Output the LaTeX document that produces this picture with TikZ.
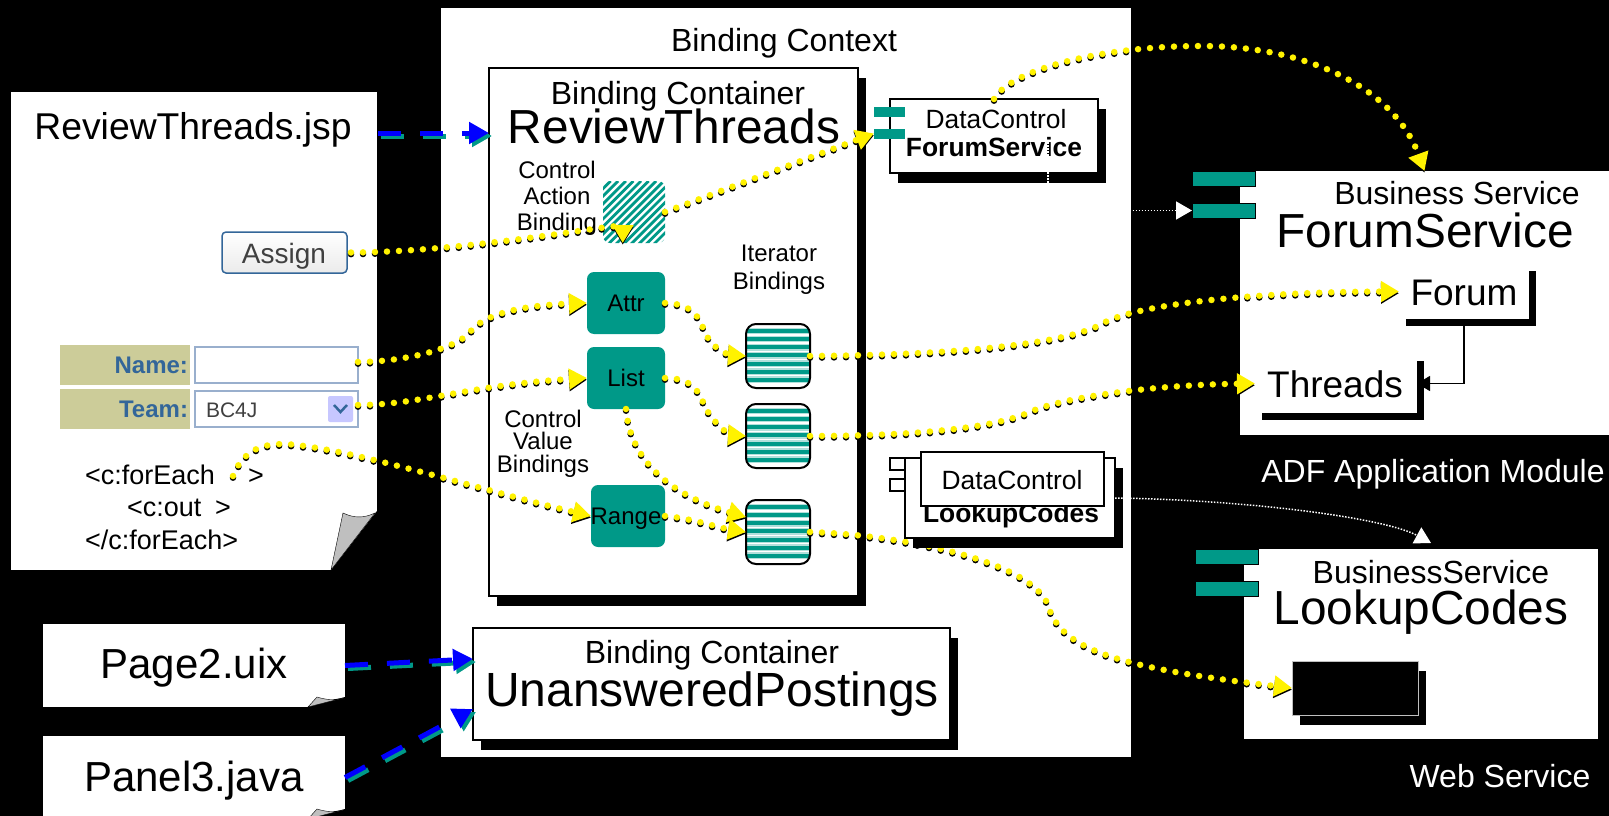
\documentclass[tikz,border=0pt]{standalone}
\usepackage{fontspec}
\setmainfont{Liberation Sans}
\usetikzlibrary{arrows.meta,shadows}

\definecolor{bindteal}{RGB}{0,153,136}
\definecolor{formolive}{RGB}{204,204,153}
\definecolor{formblue}{RGB}{51,102,153}
\definecolor{formedge}{RGB}{153,175,205}

\tikzset{
  txt/.style={anchor=base,inner sep=0pt,outer sep=0pt,font=\fontsize{#1}{#1}\selectfont},
  txtb/.style={anchor=base,inner sep=0pt,outer sep=0pt,font=\fontsize{#1}{#1}\selectfont\bfseries},
  txtw/.style={anchor=base west,inner sep=0pt,outer sep=0pt,font=\fontsize{#1}{#1}\selectfont},
  sheet/.style={fill=white,inner sep=0pt,outer sep=0pt},
  blockbox/.style={draw=black,line width=1.5pt,fill=white,inner sep=0pt,outer sep=0pt,
    general shadow={shadow xshift=8pt,shadow yshift=-10pt,fill=black}},
  plainbox/.style={fill=white,inner sep=0pt,outer sep=0pt,
    general shadow={shadow xshift=7pt,shadow yshift=-7pt,fill=black}},
  lug/.style={fill=bindteal,inner sep=0pt,outer sep=0pt,minimum width=#1},
  bigtile/.style={fill=bindteal,rounded corners=7pt,inner sep=0pt,outer sep=0pt,
    minimum height=62pt,text depth=0pt,font=\fontsize{24}{24}\selectfont},
  hatchtile/.style={fill=white,rounded corners=7pt,inner sep=0pt,outer sep=0pt,
    minimum width=62pt,minimum height=62pt,
    path picture={\foreach \k in {1,...,18}
      \draw[bindteal,line width=2.8pt]
        ([xshift=\k*7.6pt]path picture bounding box.north west) --
        ([xshift=\k*7.6pt-70pt,yshift=-70pt]path picture bounding box.north west);}},
  itertile/.style={draw=black,line width=2pt,fill=white,rounded corners=10pt,inner sep=0pt,outer sep=0pt,
    minimum width=64pt,minimum height=64pt,
    path picture={\foreach \k in {1,...,7} {
      \draw[bindteal!30,line width=6.5pt]
        ([yshift=-\k*8.1pt+1pt]path picture bounding box.north west) --
        ([yshift=-\k*8.1pt+1pt]path picture bounding box.north east);
      \draw[bindteal,line width=4pt]
        ([yshift=-\k*8.1pt+1pt]path picture bounding box.north west) --
        ([yshift=-\k*8.1pt+1pt]path picture bounding box.north east);}}},
  dotfront/.style={draw=yellow,line width=6.5pt,line cap=round,dash pattern=on 0pt off 12pt,
    -{Triangle[length=18pt,width=20pt,fill=yellow]}},
  dotback/.style={dotfront,draw=black,transform canvas={yshift=-1.7pt},
    -{Triangle[length=18pt,width=20pt,fill=black]}},
  bluefront/.style={draw=blue,line width=5pt,dash pattern=on 23pt off 19pt,
    -{Triangle[length=20pt,width=21pt,fill=blue]}},
  blueback/.style={bluefront,draw=bindteal,transform canvas={shift={(3pt,-3pt)}},
    -{Triangle[length=20pt,width=21pt,fill=bindteal]}},
  whitedots/.style={draw=white,line width=1.5pt,dash pattern=on 1.5pt off 1.5pt,
    -{Triangle[length=16pt,width=18pt,fill=white]}},
}
\newcommand{\dotlink}[1]{\draw[dotback] #1; \draw[dotfront] #1;}
\newcommand{\bluelink}[1]{\draw[blueback] #1; \draw[bluefront] #1;}

\begin{document}
\begin{tikzpicture}[x=1pt,y=-1pt]
\useasboundingbox (0,0) rectangle (1609,816);
\fill[black] (0,0) rectangle (1609,816);

% pages on the left
\node[sheet,minimum width=366pt,minimum height=478pt] (jsppage) at (194,331) {};
\fill[black] (331,570) -- (377,511) -- (377,571) -- (331,571) -- cycle;
\filldraw[fill=lightgray,draw=black] (331,570) -- (343,513) to[bend right=25] (375,513) -- cycle;
\node[sheet,minimum width=302pt,minimum height=83pt] (pagetwo) at (194,665.5) {};
\fill[black] (308,707) -- (345,697) -- (345,708) -- (308,708) -- cycle;
\filldraw[fill=lightgray,draw=black] (308,707) -- (317,697) to[bend right=15] (343,698) -- cycle;
\node[sheet,minimum width=302pt,minimum height=83pt] (panelthree) at (194,777.5) {};
\fill[black] (308,819) -- (345,809) -- (345,820) -- (308,820) -- cycle;
\filldraw[fill=lightgray,draw=black] (308,819) -- (317,809) to[bend right=15] (343,810) -- cycle;
\node[txt=37.3] (jsptitle) at (193,139) {ReviewThreads.jsp};
\node[txt=42] (pagetitle) at (194,678) {Page2.uix};
\node[txt=42] (paneltitle) at (194,791) {Panel3.java};
\coordinate (jspout) at (378,133);

% form
\node[draw=formblue,line width=1.5pt,rounded corners=4pt,top color=white,bottom color=black!8,
  minimum width=125pt,minimum height=41pt,inner sep=0pt,outer sep=0pt] (assign) at (284.5,252.5) {};
\node[txt=28,text=black!75] (assigntext) at (284,263) {Assign};
\node[fill=formolive,minimum width=130pt,minimum height=40pt,inner sep=0pt] (namelabel) at (125,365) {};
\node[fill=formolive,minimum width=130pt,minimum height=40pt,inner sep=0pt] (teamlabel) at (125,409) {};
\node[draw=formedge,line width=1.2pt,fill=white,minimum width=163pt,minimum height=36pt,inner sep=0pt,outer sep=0pt] (nameinput) at (276.5,365) {};
\node[draw=formedge,line width=1.2pt,fill=white,minimum width=163pt,minimum height=36pt,inner sep=0pt,outer sep=0pt] (teaminput) at (276.5,409) {};
\node[txtb=24,anchor=base east,text=formblue] (nametext) at (188,373) {Name:};
\node[txtb=24,anchor=base east,text=formblue] (teamtext) at (188,417) {Team:};
\node[txtw=21,text=black!75] (teamvalue) at (206,417) {BC4J};
\node[fill=blue!22,rounded corners=2pt,minimum width=25pt,minimum height=26pt,inner sep=0pt] (teamdrop) at (340.5,409) {};
\draw[formblue,line width=2.5pt] (334,405) -- (340.5,412) -- (347,405);

% tag lines
\node[txtw=27] (tagone) at (85,484) {<c:forEach};
\node[txtw=27] (tagoneend) at (248,484) {>};
\node[txtw=27] (tagtwo) at (127,516) {<c:out};
\node[txtw=27] (tagtwoend) at (215,516) {>};
\node[txtw=27] (tagthree) at (85,549) {</c:forEach>};
\coordinate (tagout) at (233,476);

% binding context
\node[fill=white,minimum width=690pt,minimum height=749pt,inner sep=0pt,outer sep=0pt] (context) at (786,382.5) {};
\node[txt=32] (contexttitle) at (784,52) {Binding Context};

\node[blockbox,minimum width=369pt,minimum height=528pt] (rtbox) at (673.5,332) {};
\node[txt=32] (rtlabel) at (678,104) {Binding Container};
\node[txt=47.8] (rttitle) at (674,143) {ReviewThreads};
\foreach \y/\t in {178/Control,204/Action,230/Binding}
  \node[txt=24] (act\t) at (557,\y) {\t};
\foreach \y/\t in {427/Control,449/Value,472/Bindings}
  \node[txt=24] (val\t) at (543,\y) {\t};
\foreach \y/\t in {261/Iterator,289/Bindings}
  \node[txt=24] (iter\t) at (779,\y) {\t};

\node[hatchtile] (actiontile) at (634,212) {};
\node[bigtile,minimum width=78pt] (attrtile) at (626,303) {Attr};
\node[bigtile,minimum width=78pt] (listtile) at (626,378) {List};
\node[bigtile,minimum width=74pt] (rangetile) at (628,516) {};
\node[txt=24] (rangetext) at (626,524) {Range};
\node[itertile] (iterone) at (778,356) {};
\node[itertile] (itertwo) at (778,436) {};
\node[itertile] (iterthree) at (778,532) {};

\node[blockbox,minimum width=477pt,minimum height=112pt] (ubox) at (711.5,684) {};
\node[txt=32] (ulabel) at (712,663) {Binding Container};
\node[txt=48] (utitle) at (712,706) {UnansweredPostings};

% data control forum
\node[blockbox,minimum width=208pt,minimum height=74pt] (dcforum) at (994,136) {};
\foreach \y/\n in {112/one,133.5/two}
  \node[lug=31pt,minimum height=10pt] (dclug\n) at (889.5,\y) {};
\node[txt=26.4] (dcforumone) at (996,128) {DataControl};
\node[txtb=26.4] (dcforumtwo) at (994,156) {ForumService};
\coordinate (dcdots) at (1048,142);

% business service
\node[sheet,minimum width=369pt,minimum height=264pt] (busforum) at (1424.5,303) {};
\foreach \y/\n in {178.5/one,210.5/two}
  \node[lug=63pt,draw=black,line width=0.8pt,minimum height=15pt] (buslug\n) at (1223.5,\y) {};
\node[txt=32] (buslabel) at (1457,204) {Business Service};
\node[txt=47.8] (bustitle) at (1425,247) {ForumService};
\node[plainbox,minimum width=130pt,minimum height=55pt] (forum) at (1464,291.5) {};
\node[plainbox,minimum width=162pt,minimum height=59pt] (threads) at (1336,383.5) {};
\node[txt=37] (forumtext) at (1464,305) {Forum};
\node[txt=37] (threadstext) at (1335,397) {Threads};
\draw[line width=1.2pt,-{Triangle[length=13pt,width=15pt]}] (forum.south) |- (threads.east);

\node[sheet,minimum width=354pt,minimum height=190pt] (buslookup) at (1421,644) {};
\foreach \y/\n in {556.5/one,589/two}
  \node[lug=63pt,draw=black,line width=0.8pt,minimum height=15pt] (looklug\n) at (1226.5,\y) {};
\node[txt=32] (looklabel) at (1431,583) {BusinessService};
\node[txt=47.8] (looktitle) at (1421,624) {LookupCodes};
\node[fill=black,draw=lightgray,line width=1pt,minimum width=126pt,minimum height=54pt,inner sep=0pt,outer sep=0pt,
  general shadow={shadow xshift=8pt,shadow yshift=-10pt,fill=black}] (lookblack) at (1355,688) {};

\node[text=white,txt=32] (modulelabel) at (1433,482) {ADF Application Module};
\node[text=white,txt=32] (weblabel) at (1500,787) {Web Service};

% connectors
\bluelink{(jspout) -- (rtbox.west |- jspout)}
\bluelink{(pagetwo.east) -- (ubox.174.5)}
\bluelink{(panelthree.east) -- (ubox.186.7)}

\dotlink{([xshift=4pt]assign.east) .. controls (470,252) and (623,222) .. (actiontile.250)}
\dotlink{(actiontile.east) -- (dclugtwo.west)}
\dotlink{(dcforum.north) .. controls (1010,70) and (1100,46) .. (1202,46) .. controls (1310,46) and (1395,90) .. (busforum.north)}
\dotlink{([yshift=3pt]nameinput.east) .. controls (400,362) and (455,350) .. (470,332) .. controls (485,312) and (530,305) .. (attrtile.west)}
\dotlink{([yshift=4pt]teaminput.east) .. controls (420,405) and (470,385) .. (listtile.west)}
\dotlink{(tagout) .. controls (245,445) and (270,444) .. (285,444) .. controls (350,448) and (480,490) .. (rangetile.west)}
\dotlink{(attrtile.east) .. controls (700,304) and (700,325) .. (708,338) .. controls (715,350) and (730,355) .. (iterone.west)}
\dotlink{(listtile.east) .. controls (700,378) and (700,400) .. (708,412) .. controls (715,424) and (730,435) .. (itertwo.west)}
\dotlink{(listtile.south) .. controls (630,460) and (670,495) .. (iterthree.155)}
\dotlink{(rangetile.east) .. controls (690,518) and (720,528) .. (iterthree.west)}
\dotlink{(iterone.east) .. controls (950,355) and (1060,345) .. (1100,325) .. controls (1130,305) and (1250,292) .. (forum.west)}
\dotlink{(itertwo.east) .. controls (900,436) and (990,430) .. (1030,412) .. controls (1060,398) and (1150,385) .. (threads.west)}
\dotlink{(iterthree.east) .. controls (900,535) and (1030,560) .. (1048,605) .. controls (1060,650) and (1120,668) .. (lookblack.west)}

\draw[whitedots] (dcdots) |- (buslugtwo.west);

% data control lookup, over the dots
\foreach \y/\n in {464/one,485/two}
  \node[draw=black,line width=1.5pt,fill=white,minimum width=31pt,minimum height=12pt,inner sep=0pt,outer sep=0pt] (dclook\n) at (905.5,\y) {};
\node[blockbox,minimum width=210pt,minimum height=80pt] (dclookup) at (1010,498) {};
\node[txtb=26.4] (dclookuptwo) at (1011,522) {LookupCodes};
\node[draw=black,line width=1.5pt,fill=white,minimum width=183pt,minimum height=54pt,inner sep=0pt,outer sep=0pt] (dclookfront) at (1012.5,479) {};
\node[txt=26.4] (dclookupone) at (1012,489) {DataControl};
\coordinate (looktip) at (1431,543);
\draw[whitedots] (dclookup.east) .. controls (1250,500) and (1385,518) .. (looktip);
\end{tikzpicture}
\end{document}
